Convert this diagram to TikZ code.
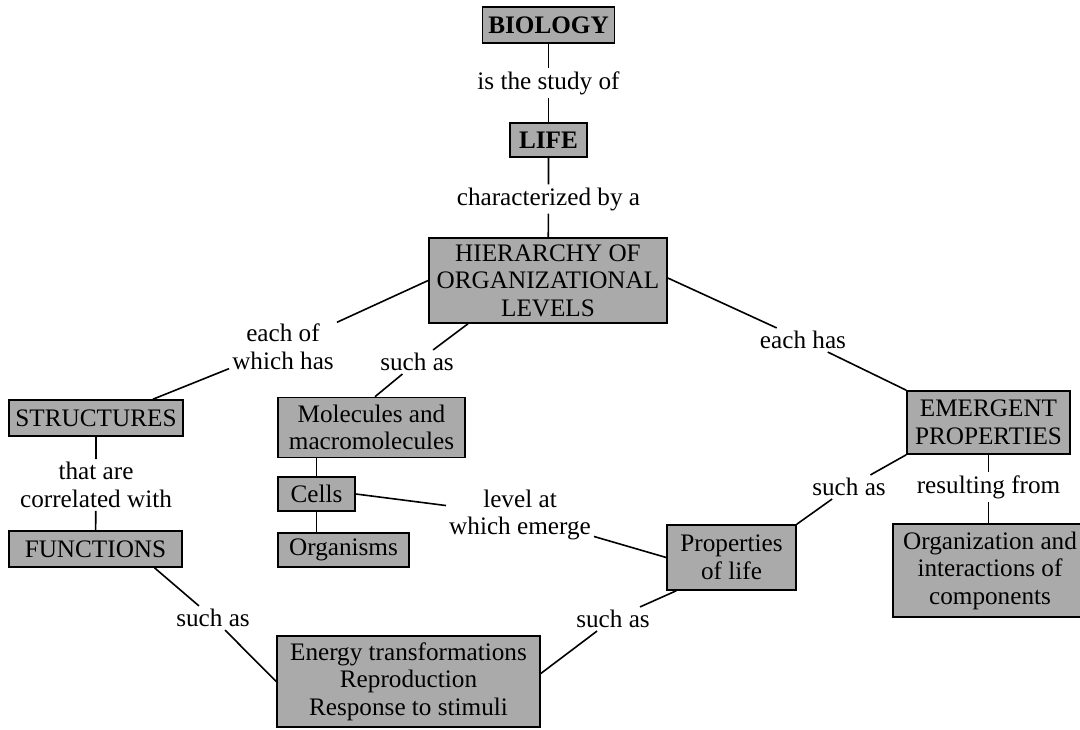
\documentclass[tikz,border=0pt]{standalone}
\usepackage{fontspec}
\setmainfont{Liberation Serif}
\definecolor{boxgray}{RGB}{170,170,170}
\begin{document}
\begin{tikzpicture}[x=1pt,y=-1pt,
  box/.style={draw=black, line width=1.6pt, fill=boxgray, inner sep=0pt, align=center,
    font=\fontsize{25.2}{27.5}\selectfont},
  lbl/.style={inner sep=3pt, align=center, font=\fontsize{25.2}{27.5}\selectfont},
  conn/.style={line width=1.6pt}]
\useasboundingbox[fill=white] (0,0) rectangle (1080,730);
\clip (0,0) rectangle (1080,730);
% concept boxes
\node[box, minimum width=132pt, minimum height=36pt] (bio) at (548.5,25) {\textbf{BIOLOGY}};
\node[box, minimum width=77pt, minimum height=34pt] (life) at (548.5,140) {\textbf{LIFE}};
\node[box, minimum width=238pt, minimum height=85pt] (hier) at (548,280.5) {HIERARCHY OF\\ORGANIZATIONAL\\LEVELS};
\node[box, minimum width=174pt, minimum height=36pt] (struct) at (96,418) {STRUCTURES};
\node[box, minimum width=173pt, minimum height=36pt] (func) at (95.5,549) {FUNCTIONS};
\node[box, minimum width=187pt, minimum height=60pt] (mol) at (371.5,427.5) {Molecules and\\macromolecules};
\node[box, minimum width=77pt, minimum height=34pt] (cells) at (316.5,494) {Cells};
\node[box, minimum width=131pt, minimum height=34pt] (org) at (343.5,550) {Organisms};
\node[box, minimum width=263pt, minimum height=91pt] (energy) at (408.5,681.5) {Energy transformations\\Reproduction\\Response to stimuli};
\node[box, minimum width=129pt, minimum height=65pt] (prop) at (731.5,557.5) {Properties\\of life};
\node[box, minimum width=163pt, minimum height=63pt] (emerg) at (988.5,422.5) {EMERGENT\\PROPERTIES};
\node[box, minimum width=194pt, minimum height=93pt] (orgz) at (990,570.5) {Organization and\\interactions of\\components};
% link labels
\node[lbl] (l1) at (548.5,83) {is the study of};
\node[lbl] (l2) at (548.5,199) {characterized by a};
\node[lbl] (l3) at (283,347) {each of\\which has};
\node[lbl] (l4) at (417,362) {such as};
\node[lbl] (l5) at (803,340) {each has};
\node[lbl] (l6) at (96,485) {that are\\correlated with};
\node[lbl] (l7) at (520,515) {level at\\which emerge};
\node[lbl] (l8) at (849,487) {such as};
\node[lbl] (l9) at (988.5,487) {resulting from};
\node[lbl] (l10) at (213,618) {such as};
\node[lbl] (l11) at (613,619) {such as};
% connectors
\draw[conn] (bio) -- (l1) -- (life);
\draw[conn] (life) -- (l2) -- (hier);
\draw[conn] (hier.west) -- (l3) -- ([xshift=57pt]struct.north);
\draw[conn] ([xshift=-80pt]hier.south) -- (l4) -- ([xshift=3.5pt]mol.north);
\draw[conn] ([yshift=2.5pt]hier.east) -- (l5) -- (emerg.north west);
\draw[conn] (struct) -- (l6) -- (func);
\draw[conn] (cells.north) -- (cells.north |- mol.south);
\draw[conn] (cells.south) -- (cells.south |- org.north);
\draw[conn] (cells.east) -- (l7) -- (prop.west);
\draw[conn] (prop.north east) -- (l8) -- (emerg.south west);
\draw[conn] (emerg.south) -- (l9) -- (emerg.south |- orgz.north);
\draw[conn] ([xshift=59pt]func.south) -- (l10) -- (energy.west);
\draw[conn] ([xshift=10pt]prop.south west) -- (l11) -- ([yshift=8pt]energy.east);
\end{tikzpicture}
\end{document}
